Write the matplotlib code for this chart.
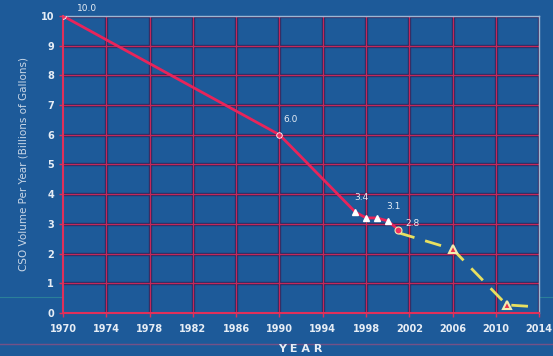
import matplotlib
matplotlib.use("Agg")
import matplotlib.pyplot as plt
from matplotlib.lines import Line2D

# measured series (red) and projected series (yellow dashed)
years_red = [1970, 1990, 1997, 1998, 1999, 2000, 2001]
vol_red = [10.0, 6.0, 3.4, 3.2, 3.2, 3.1, 2.8]
years_proj = [2001, 2006, 2011, 2014]
vol_proj = [2.7, 2.15, 0.27, 0.2]
proj_marked = [2006, 2011]
proj_marked_vals = [2.15, 0.27]

labels = ["10.0", "6.0", "3.4", "3.1", "2.8"]
label_years = [1970, 1990, 1997, 2000, 2001]
label_vals = [10.0, 6.0, 3.4, 3.1, 2.8]

xticks = list(range(1970, 2015, 4))
yticks = list(range(0, 11))

bg = "#1d5a99"
grid_red = "#c4285a"
txt = "#e6edf5"

fig = plt.figure(figsize=(5.53, 3.56), dpi=100)
fig.patch.set_facecolor(bg)
ax = fig.add_axes([0.114, 0.121, 0.861, 0.834])
ax.set_facecolor(bg)

ax.set_xlim(1970, 2014)
ax.set_ylim(0, 10)
ax.set_xticks(xticks)
ax.set_yticks(yticks)

# grid: thin red line on a dark outline
for x in xticks[1:]:
    ax.axvline(x, color="#2a2458", lw=2.4, alpha=0.8, zorder=1)
    ax.axvline(x, color=grid_red, lw=0.9, zorder=1.2)
for y in yticks[1:]:
    ax.axhline(y, color="#2a2458", lw=2.4, alpha=0.8, zorder=1)
    ax.axhline(y, color=grid_red, lw=0.9, zorder=1.2)

for s in ["left", "bottom"]:
    ax.spines[s].set_color("#e0305a")
    ax.spines[s].set_linewidth(1.5)
for s in ["top", "right"]:
    ax.spines[s].set_color("#9db7d3")
    ax.spines[s].set_linewidth(1.0)

ax.tick_params(colors="#e0305a", length=3, width=1, labelsize=7, labelcolor=txt)
ax.tick_params(axis="x", pad=5)
for t in ax.get_xticklabels() + ax.get_yticklabels():
    t.set_fontweight("bold")

# projection
ax.plot(years_proj, vol_proj, color="#e8e060", lw=2, dashes=(6, 4), zorder=3)
ax.plot(proj_marked, proj_marked_vals, ls="none", marker="^", ms=6,
        mfc="#e8304a", mec="#f2ecb0", mew=1.5, zorder=4)

# measured
ax.plot(years_red, vol_red, color="#e8245a", lw=2, zorder=5)
ax.plot(years_red[2:6], vol_red[2:6], ls="none", marker="^", ms=4,
        mfc="white", mec="white", zorder=6)
ax.plot(years_red[:2], vol_red[:2], ls="none", marker="o", ms=4,
        mfc="#f03060", mec="white", mew=0.6, zorder=6)
ax.plot(years_red[-1], vol_red[-1], ls="none", marker="o", ms=5,
        mfc="#f03060", mec="#f2ecb0", mew=0.8, zorder=6)

offsets = [(10, 2), (3, 8), (-1, 7), (-1, 7), (5, 1)]
for lab, x, y, off in zip(labels, label_years, label_vals, offsets):
    ax.annotate(lab, (x, y), xytext=off, textcoords="offset points",
                color=txt, fontsize=6.5, ha="left", va="bottom", zorder=7)

ax.set_ylabel("CSO Volume Per Year (Billions of Gallons)", color="#c8d6e6",
              fontsize=7.5, labelpad=9)
fig.text(0.543, 0.005, "Y E A R", color=txt, fontsize=8, fontweight="bold",
         ha="center", va="bottom")

# faint scan lines across the page
fig.add_artist(Line2D([0, 1], [0.165, 0.165], color="#3aa59a", lw=0.8, alpha=0.5,
                      transform=fig.transFigure, zorder=0))
fig.add_artist(Line2D([0, 1], [0.035, 0.035], color="#b04c7c", lw=1.0, alpha=0.6,
                      transform=fig.transFigure, zorder=0))

fig.savefig("out.png", dpi=100, facecolor=bg)
